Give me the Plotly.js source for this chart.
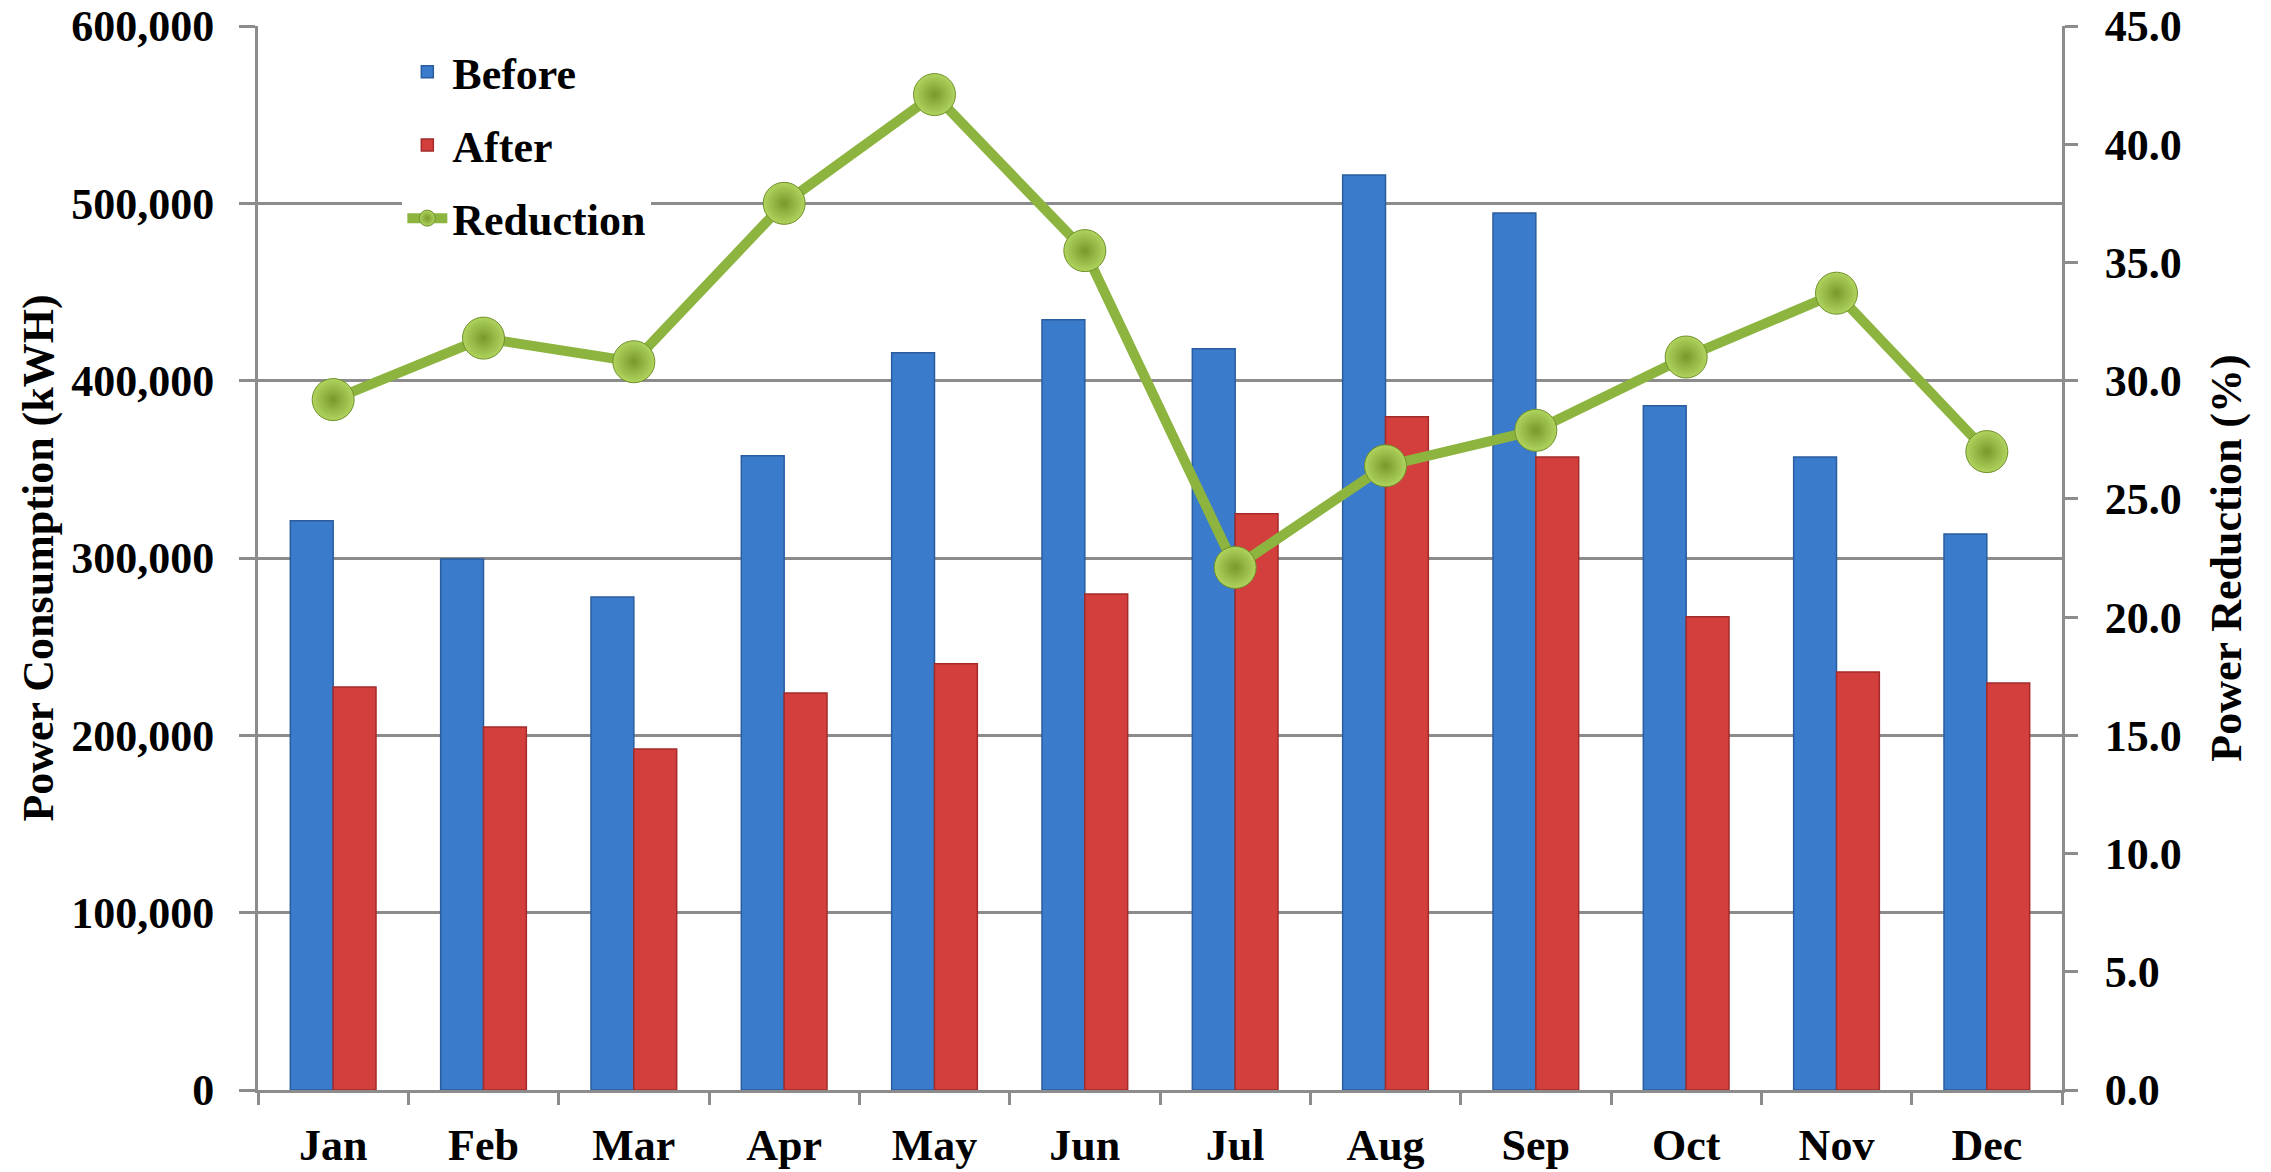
<!DOCTYPE html>
<html>
<head>
<meta charset="utf-8">
<script src="https://cdn.plot.ly/plotly-3.0.1.min.js"></script>
<style>
  html, body { margin: 0; padding: 0; background: #ffffff; }
  #chart { width: 2271px; height: 1172px; }
</style>
</head>
<body>
<div id="chart"></div>
<script>
// ---- Data ----
const months = ["Jan", "Feb", "Mar", "Apr", "May", "Jun", "Jul", "Aug", "Sep", "Oct", "Nov", "Dec"];
const beforeKWh = [321000, 299500, 278000, 357600, 415700, 434300, 418000, 516000, 494600, 385800, 357000, 313600];
const afterKWh = [227300, 204700, 192300, 223900, 240300, 279700, 324900, 379600, 357000, 266800, 235700, 229500];
const reductionPct = [29.2, 31.8, 30.8, 37.5, 42.1, 35.5, 22.1, 26.4, 27.9, 31.0, 33.7, 27.0];

const leftTicks = [0, 100000, 200000, 300000, 400000, 500000, 600000];
const rightTicks = [0, 5, 10, 15, 20, 25, 30, 35, 40, 45];

const FONT = '"Times New Roman", "Liberation Serif", serif';
const GRID = '#8c8c8c';

const traces = [
  {
    type: 'bar', name: 'Before', x: months, y: beforeKWh,
    marker: { color: '#3a7bcb', line: { color: '#2a5d9e', width: 1.5 } },
    legendgroup: 'a', hoverinfo: 'x+y'
  },
  {
    type: 'bar', name: 'After', x: months, y: afterKWh,
    marker: { color: '#d33f3c', line: { color: '#a32c2a', width: 1.5 } },
    legendgroup: 'b', hoverinfo: 'x+y'
  },
  {
    type: 'scatter', mode: 'lines+markers', name: 'Reduction', x: months, y: reductionPct,
    yaxis: 'y2', cliponaxis: false,
    line: { color: '#8cb43f', width: 10 },
    marker: {
      size: 42, color: '#b0d45e',
      gradient: { type: 'radial', color: '#78992c' },
      line: { color: '#6f8f2a', width: 1 }
    },
    legendgroup: 'c'
  }
];

const layout = {
  width: 2271, height: 1172,
  margin: { l: 258, r: 209, t: 26, b: 82 },
  paper_bgcolor: '#ffffff', plot_bgcolor: '#ffffff',
  font: { family: FONT, size: 44, color: '#000000', weight: 'bold' },
  barmode: 'group', bargap: 0.43, bargroupgap: 0,
  showlegend: true,
  legend: {
    x: 0.08, y: 0.99, xanchor: 'left', yanchor: 'top',
    bgcolor: '#ffffff', borderwidth: 0,
    font: { family: FONT, size: 44, color: '#000000', weight: 'bold' },
    tracegroupgap: 13, itemwidth: 40, traceorder: 'grouped'
  },
  xaxis: {
    type: 'category', categoryorder: 'array', categoryarray: months,
    range: [-0.5, 11.5], autorange: false,
    showline: true, linecolor: GRID, linewidth: 3,
    ticks: 'outside', tickson: 'boundaries', ticklen: 12, tickwidth: 3, tickcolor: GRID,
    showgrid: false, zeroline: false,
    tickfont: { family: FONT, size: 44, color: '#000000', weight: 'bold' },
    ticklabelstandoff: 14
  },
  yaxis: {
    range: [0, 600000], autorange: false, tickvals: leftTicks, tickformat: ',d',
    showgrid: true, gridcolor: GRID, gridwidth: 3,
    showline: true, linecolor: GRID, linewidth: 3,
    ticks: 'outside', ticklen: 16, tickwidth: 3, tickcolor: GRID,
    zeroline: false, ticklabelstandoff: 16,
    tickfont: { family: FONT, size: 44, color: '#000000', weight: 'bold' },
    title: { text: 'Power Consumption (kWH)', font: { family: FONT, size: 44, color: '#000000', weight: 'bold' }, standoff: 4 }
  },
  yaxis2: {
    overlaying: 'y', side: 'right',
    range: [0, 45], autorange: false, tickvals: rightTicks, tickformat: '.1f',
    showgrid: false, zeroline: false,
    showline: true, linecolor: GRID, linewidth: 3,
    ticks: 'outside', ticklen: 13, tickwidth: 3, tickcolor: GRID,
    ticklabelstandoff: 18,
    tickfont: { family: FONT, size: 44, color: '#000000', weight: 'bold' },
    title: { text: 'Power Reduction (%)', font: { family: FONT, size: 44, color: '#000000', weight: 'bold' }, standoff: 30 }
  }
};

Plotly.newPlot('chart', traces, layout, { staticPlot: true, displayModeBar: false });
</script>
</body>
</html>
